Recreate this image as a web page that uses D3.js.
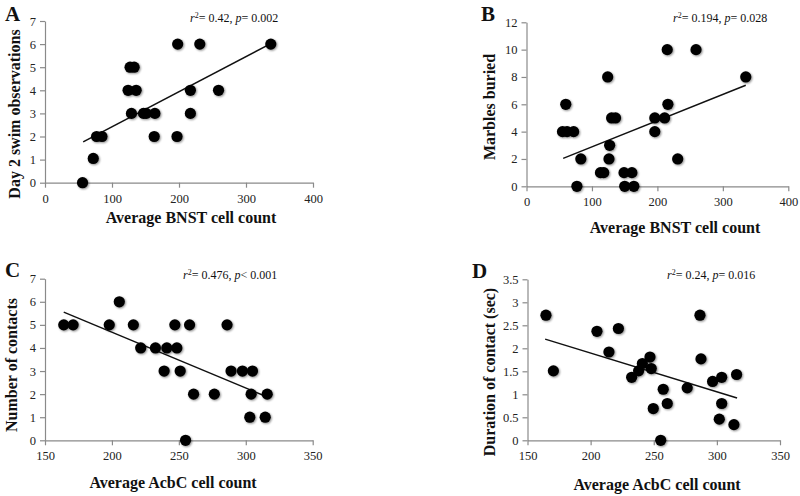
<!DOCTYPE html>
<html><head><meta charset="utf-8">
<script src="https://cdn.jsdelivr.net/npm/d3@7"></script>
<style>
body{margin:0;background:#fff;}
svg{display:block;font-family:"Liberation Serif","Times New Roman",serif;}
</style></head>
<body><svg id="c" width="800" height="496"></svg>
<script>
// ---------- DATA ----------
// Panel A: Day 2 swim observations vs average BNST cell count
const aX = [56, 72, 77, 85, 163, 197, 129, 147, 151, 164, 217, 124, 136, 217, 259, 127, 133, 198, 231, 337];
const aY = [0, 1.05, 2, 2, 2, 2, 3, 3, 3, 3, 3, 4, 4, 4, 4, 5, 5, 6, 6, 6];
const aFit = [[57, 1.77], [337, 6.02]];
// Panel B: Marbles buried vs average BNST cell count
const bX = [55, 62, 72, 196, 60, 216, 77, 150, 164, 83, 126, 231, 113, 118, 149, 161, 124, 335, 127, 130, 136, 196, 211, 215, 259];
const bY = [4, 4, 4, 4, 6, 6, 0, 0, 0, 2, 2, 2, 1, 1, 1, 1, 8, 8, 3, 5, 5, 5, 5, 10, 10];
const bFit = [[56, 2.04], [335, 7.39]];
// Panel C: Number of contacts vs average AcbC cell count
const cX = [164, 171, 198, 216, 247, 258, 286, 205.5, 221.5, 232.5, 241, 248.5, 239, 251, 289, 297.5, 305, 261, 276.5, 304, 316, 303, 314.5, 255];
const cY = [5, 5, 5, 5, 5, 5, 5, 6, 4, 4, 4, 4, 3, 3, 3, 3, 3, 2, 2, 2, 2, 1, 1, 0];
const cFit = [[164, 5.55], [313, 1.95]];
// Panel D: Duration of contact (sec) vs average AcbC cell count
const dX = [164.6, 170.5, 205, 222, 214.5, 232.5, 238, 241, 247, 248, 249.6, 257.5, 260.7, 255.5, 276.5, 286.6, 287.4, 296.6, 303.8, 315.6, 303.8, 301.9, 313.5];
const dY = [2.72, 1.51, 2.37, 2.43, 1.92, 1.37, 1.51, 1.67, 1.81, 1.56, 0.69, 1.11, 0.80, 0, 1.14, 2.72, 1.77, 1.28, 1.37, 1.43, 0.80, 0.46, 0.34];
const dFit = [[164, 2.2], [316, 0.92]];

const xTicksBNST = [0, 100, 200, 300, 400];
const xTicksAcbC = [150, 200, 250, 300, 350];
const yTicksA = [0, 1, 2, 3, 4, 5, 6, 7];
const yTicksB = [0, 2, 4, 6, 8, 10, 12];
const yTicksC = [0, 1, 2, 3, 4, 5, 6, 7];
const yTicksD = [0, 0.5, 1, 1.5, 2, 2.5, 3, 3.5];

const letters = ["A", "B", "C", "D"];
const xTitles = ["Average BNST cell count", "Average BNST cell count", "Average AcbC cell count", "Average AcbC cell count"];
const yTitles = ["Day 2 swim observations", "Marbles buried", "Number of contacts", "Duration of contact (sec)"];
const r2Text = ["0.42", "0.194", "0.476", "0.24"];
const pOp = ["=", "=", "<", "="];
const pText = ["0.002", "0.028", "0.001", "0.016"];

// ---------- LAYOUT ----------
const panels = [
  {x: aX, y: aY, fit: aFit, xd: [0, 400], yd: [0, 7], xt: xTicksBNST, yt: yTicksA,
   L: 45, R: 313, T: 21, B: 182.7, letter: [5, 21], ytl: [15, 114], xtl: [191, 223], ann: [190, 22]},
  {x: bX, y: bY, fit: bFit, xd: [0, 400], yd: [0, 12], xt: xTicksBNST, yt: yTicksB,
   L: 526.5, R: 788.3, T: 22.3, B: 186.3, letter: [481, 21], ytl: [490, 107], xtl: [675, 233], ann: [673, 22]},
  {x: cX, y: cY, fit: cFit, xd: [150, 350], yd: [0, 7], xt: xTicksAcbC, yt: yTicksC,
   L: 45, R: 312.7, T: 278.7, B: 440.3, letter: [5, 277], ytl: [12, 365], xtl: [173, 488], ann: [183, 279]},
  {x: dX, y: dY, fit: dFit, xd: [150, 350], yd: [0, 3.5], xt: xTicksAcbC, yt: yTicksD,
   L: 527.5, R: 780, T: 279.3, B: 440.3, letter: [472, 278], ytl: [490, 372], xtl: [657, 490], ann: [667, 279]}
];

const svg = d3.select("#c");
const defs = svg.append("defs");
const f = defs.append("filter").attr("id", "sh").attr("x", "-50%").attr("y", "-50%").attr("width", "200%").attr("height", "200%");
f.append("feGaussianBlur").attr("in", "SourceAlpha").attr("stdDeviation", 1.2).attr("result", "b");
f.append("feOffset").attr("in", "b").attr("dx", 1.2).attr("dy", 1.2).attr("result", "o");
f.append("feComponentTransfer").attr("in", "o").attr("result", "o2")
  .append("feFuncA").attr("type", "linear").attr("slope", 0.45);
const m = f.append("feMerge");
m.append("feMergeNode").attr("in", "o2");
m.append("feMergeNode").attr("in", "SourceGraphic");

panels.forEach((p, i) => {
  const g = svg.append("g");
  const xs = d3.scaleLinear().domain(p.xd).range([p.L, p.R]);
  const ys = d3.scaleLinear().domain(p.yd).range([p.B, p.T]);

  const xa = g.append("g").attr("transform", `translate(0,${p.B})`)
    .call(d3.axisBottom(xs).tickValues(p.xt).tickSize(5).tickSizeOuter(0).tickPadding(6).tickFormat(d3.format("d")));
  const ya = g.append("g").attr("transform", `translate(${p.L},0)`)
    .call(d3.axisLeft(ys).tickValues(p.yt).tickSize(5).tickSizeOuter(0).tickPadding(4).tickFormat(d => String(d)));
  [xa, ya].forEach(a => {
    a.select(".domain").attr("stroke", "#8a8a8a").attr("stroke-width", 1.2);
    a.selectAll(".tick line").attr("stroke", "#8a8a8a").attr("stroke-width", 1.2);
    a.selectAll(".tick text").attr("fill", "#222").attr("font-size", 12.5)
      .attr("font-family", '"Liberation Serif","Times New Roman",serif');
  });

  // trend line
  g.append("line")
    .attr("x1", xs(p.fit[0][0])).attr("y1", ys(p.fit[0][1]))
    .attr("x2", xs(p.fit[1][0])).attr("y2", ys(p.fit[1][1]))
    .attr("stroke", "#111").attr("stroke-width", 1.5);

  // points
  g.append("g").attr("filter", "url(#sh)").selectAll("circle")
    .data(p.x.map((v, k) => [v, p.y[k]]))
    .join("circle")
    .attr("cx", d => xs(d[0])).attr("cy", d => ys(d[1])).attr("r", 5.6)
    .attr("fill", "#000");

  // panel letter
  g.append("text").attr("x", p.letter[0]).attr("y", p.letter[1])
    .attr("font-size", 21).attr("font-weight", "bold").attr("fill", "#111").text(letters[i]);

  // axis titles
  g.append("text").attr("x", p.xtl[0]).attr("y", p.xtl[1]).attr("text-anchor", "middle")
    .attr("font-size", 16).attr("font-weight", "bold").attr("fill", "#111").text(xTitles[i]);
  g.append("text").attr("transform", `translate(${p.ytl[0] + 5},${p.ytl[1]}) rotate(-90)`)
    .attr("text-anchor", "middle").attr("font-size", 16).attr("font-weight", "bold").attr("fill", "#111").text(yTitles[i]);

  // stats annotation
  const t = g.append("text").attr("x", p.ann[0]).attr("y", p.ann[1]).attr("font-size", 12).attr("fill", "#111");
  t.append("tspan").attr("font-style", "italic").text("r");
  t.append("tspan").attr("font-size", 8).attr("dy", -4).text("2");
  t.append("tspan").attr("dy", 4).text("= " + r2Text[i] + ", ");
  t.append("tspan").attr("font-style", "italic").text("p");
  t.append("tspan").text(pOp[i] + " " + pText[i]);
});
</script></body></html>
